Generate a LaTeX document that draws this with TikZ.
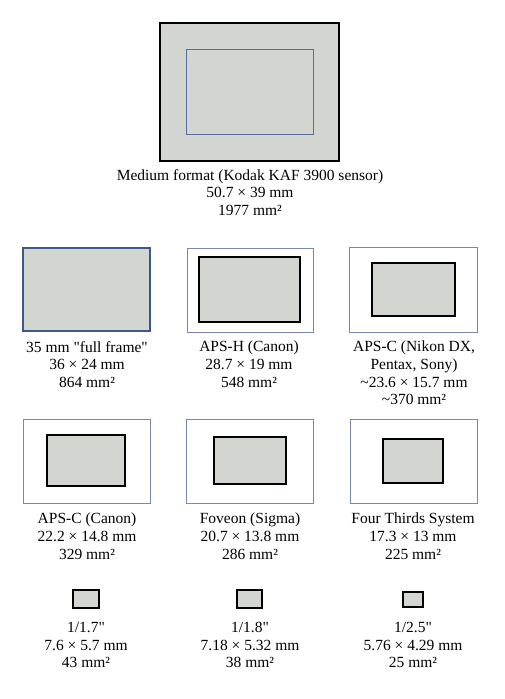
\documentclass[tikz,border=0pt]{standalone}
\usepackage{fontspec}
\setmainfont{Liberation Serif}[Ligatures=TeXOff]
\definecolor{sensorfill}{RGB}{211,213,208}
\definecolor{framecol}{RGB}{120,136,168}
\definecolor{ffcol}{RGB}{62,88,138}
\definecolor{mfinner}{RGB}{90,110,160}
\tikzset{
 sensor/.style={draw=black, line width=2.2pt, fill=sensorfill},
 framebox/.style={draw=framecol, line width=0.9pt, fill=white},
 ffbox/.style={draw=ffcol, line width=1.8pt, fill=sensorfill},
 mfbox/.style={draw=mfinner, line width=1pt},
 lbl/.style={align=center, inner sep=0pt, anchor=north, font=\fontsize{15.5}{17.6}\selectfont},
}
\begin{document}
\begin{tikzpicture}[x=1pt,y=-1pt]
\useasboundingbox[fill=white] (0,0) rectangle (505,699);
% medium format
\draw[sensor] (160,23) rectangle (339,161);
\draw[mfbox] (186,49) rectangle (313,134);
\node[lbl] (mf) at (250,169) {Medium format (Kodak KAF 3900 sensor)\\50.7 × 39 mm\\1977 mm²};
% row 2
\draw[ffbox] (23,248) rectangle (150,331);
\node[lbl] (ff) at (87,341) {35 mm "full frame"\\36 × 24 mm\\864 mm²};
\draw[framebox] (187,248) rectangle (313,332);
\draw[sensor] (199,257) rectangle (300,322);
\node[lbl] (apsh) at (249,341) {APS-H (Canon)\\28.7 × 19 mm\\548 mm²};
\draw[framebox] (349,247) rectangle (477,332);
\draw[sensor] (372,263) rectangle (455,316);
\node[lbl] (apscn) at (414,341) {APS-C (Nikon DX,\\Pentax, Sony)\\\textasciitilde23.6 × 15.7 mm\\\textasciitilde370 mm²};
% row 3
\draw[framebox] (23,419) rectangle (150,503);
\draw[sensor] (47,435) rectangle (125,486);
\node[lbl] (apscc) at (87,513) {APS-C (Canon)\\22.2 × 14.8 mm\\329 mm²};
\draw[framebox] (186,419) rectangle (313,503);
\draw[sensor] (214,437) rectangle (286,484);
\node[lbl] (fov) at (250,513) {Foveon (Sigma)\\20.7 × 13.8 mm\\286 mm²};
\draw[framebox] (350,419) rectangle (477,503);
\draw[sensor] (383,439) rectangle (443,483);
\node[lbl] (ft) at (413,513) {Four Thirds System\\17.3 × 13 mm\\225 mm²};
% row 4
\draw[sensor] (73,590) rectangle (99,608);
\node[lbl] (s17) at (86,622) {1/1.7"\\7.6 × 5.7 mm\\43 mm²};
\draw[sensor] (237,590) rectangle (262,608);
\node[lbl] (s18) at (250,622) {1/1.8"\\7.18 × 5.32 mm\\38 mm²};
\draw[sensor] (403,592) rectangle (423,607);
\node[lbl] (s25) at (413,622) {1/2.5"\\5.76 × 4.29 mm\\25 mm²};
\end{tikzpicture}
\end{document}
